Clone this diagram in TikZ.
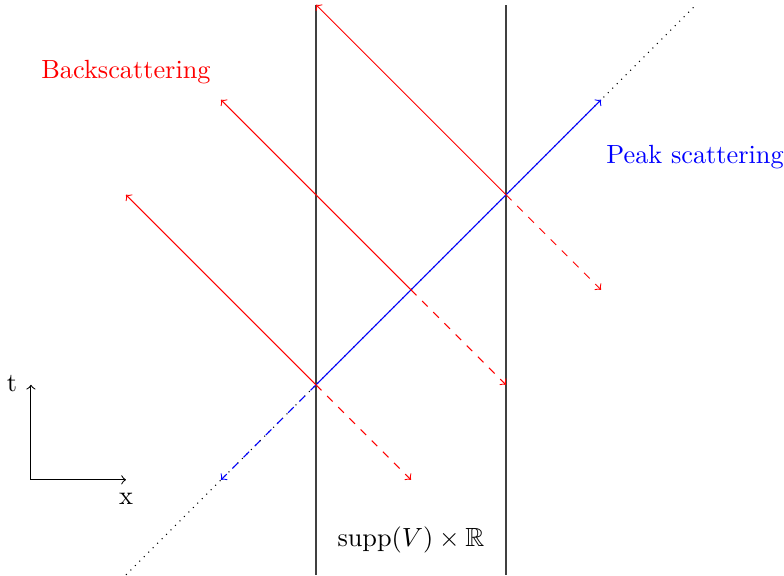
\documentclass[tikz,border=0pt]{standalone}
\usepackage{amssymb}
\begin{document}
\begin{tikzpicture}[x=1.27cm,y=1.27cm,
  ray/.style={red,->},
  rayd/.style={red,->,dashed},
  peak/.style={blue,->},
  peakd/.style={blue,->,dashed},
  wall/.style={black!75},
  axis/.style={black,->}]
\useasboundingbox (-3.326,-2.01) rectangle (4.926,4.05);
% coordinates
\coordinate (O) at (0,0);
\coordinate (A) at (1,1);
\coordinate (B) at (2,2);
\coordinate (Pend) at (3,3);
\coordinate (Pneg) at (-1,-1);
\coordinate (D0) at (-2,-2);
\coordinate (D1) at (4,4);
\coordinate (W1a) at (0,-2);
\coordinate (W1b) at (0,4);
\coordinate (W2a) at (2,-2);
\coordinate (W2b) at (2,4);
\coordinate (R0) at (-2,2);
\coordinate (R1) at (-1,3);
\coordinate (R2) at (0,4);
\coordinate (T0) at (1,-1);
\coordinate (T1) at (2,0);
\coordinate (T2) at (3,1);
\coordinate (Ax) at (-3,-1);
\coordinate (Axt) at (-3,0);
\coordinate (Axx) at (-2,-1);
% walls and diagonal
\draw[wall] (W1a) -- (W1b);
\draw[wall] (W2a) -- (W2b);
\draw[dotted] (D0) -- (D1);
% peak
\draw[peak] (O) -- (Pend);
\draw[peakd] (O) -- (Pneg);
% reflected
\draw[ray] (O) -- (R0);
\draw[ray] (A) -- (R1);
\draw[ray] (B) -- (R2);
\draw[rayd] (O) -- (T0);
\draw[rayd] (A) -- (T1);
\draw[rayd] (B) -- (T2);
% axes
\draw[axis] (Ax) -- (Axt);
\draw[axis] (Ax) -- (Axx);
\node (tl) at (-3.2,0.01) {t};
\node (xl) at (-2,-1.2) {x};
% labels
\node[red] (back) at (-2,3.29) {Backscattering};
\node[blue] (peakl) at (3.99,2.4) {Peak scattering};
\node (supp) at (1,-1.63) {$\mathrm{supp}(V)\times\mathbb{R}$};
\end{tikzpicture}
\end{document}
